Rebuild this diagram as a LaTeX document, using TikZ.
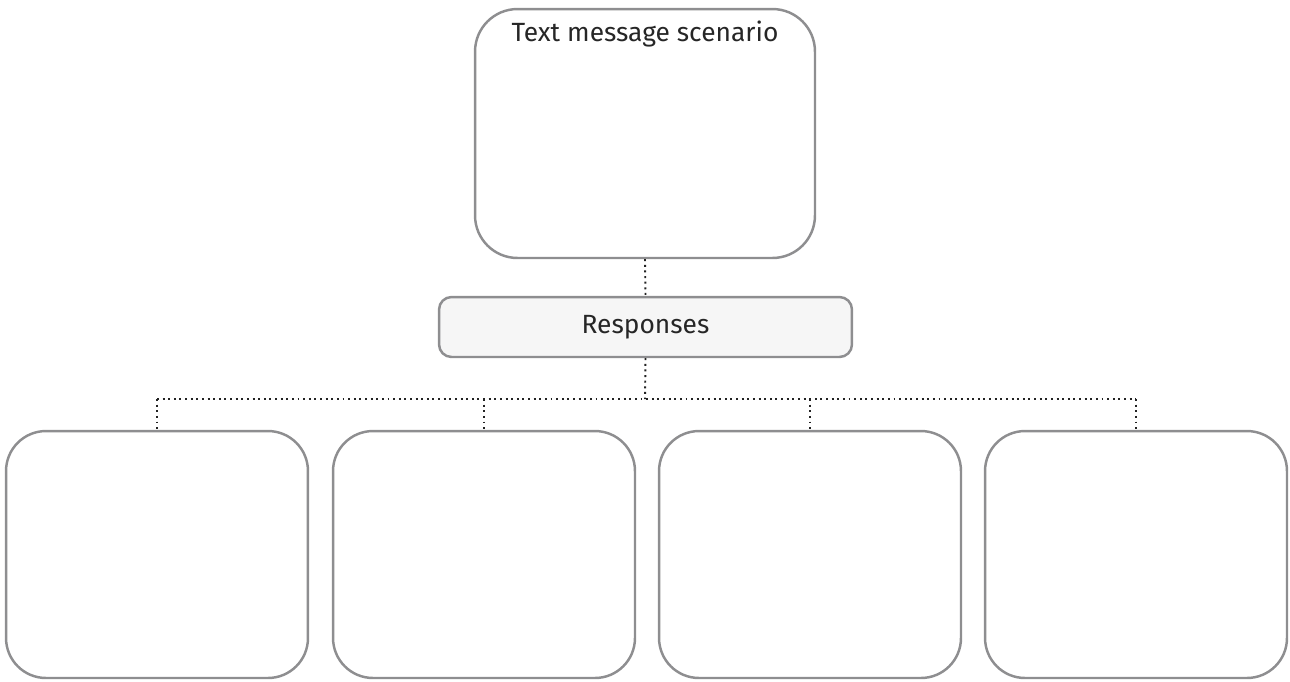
\documentclass[tikz,border=0pt]{standalone}
\usepackage{fontspec}
\setmainfont{Fira Sans}
\usetikzlibrary{positioning}
\definecolor{boxgray}{HTML}{8E8E90}
\definecolor{dotgray}{HTML}{222222}
\definecolor{panelfill}{HTML}{F6F6F6}
\begin{document}
\begin{tikzpicture}[x=0.02cm, y=-0.02cm,
  box/.style={draw=boxgray, line width=1.4pt, fill=white},
  bigbox/.style={box, rounded corners=0.85cm, minimum width=6.8cm, minimum height=4.98cm},
  respbox/.style={box, rounded corners=0.8cm, minimum width=6.04cm, minimum height=4.94cm},
  headbox/.style={box, fill=panelfill, rounded corners=0.25cm, minimum width=8.26cm, minimum height=1.2cm},
  link/.style={draw=dotgray, line width=1.1pt, dash pattern=on 1.1pt off 2.1pt},
  every node/.style={font=\fontsize{15}{18}\selectfont, text=black!85}]

\useasboundingbox (0, 0) rectangle (1290, 681);

% scenario and responses
\node [bigbox] (scenario) at (645, 133.5) {};
\node [below=5pt of scenario.north, inner sep=2pt] (title) {Text message scenario};
\node [headbox] (responses) at (645.5, 327) {Responses};

\draw [link] (scenario.south) -- (responses.north);

% four answer boxes
\foreach \x [count=\i] in {157, 484, 810, 1136}
  \node [respbox] (resp\i) at (\x, 554.5) {};

\coordinate (bar) at (645, 399);
\draw [link] (responses.south) -- (bar);
\draw [link] (resp1.north |- bar) -- (resp4.north |- bar);
\foreach \i in {1, 2, 3, 4}
  \draw [link] (resp\i.north |- bar) -- (resp\i.north);

\end{tikzpicture}
\end{document}
